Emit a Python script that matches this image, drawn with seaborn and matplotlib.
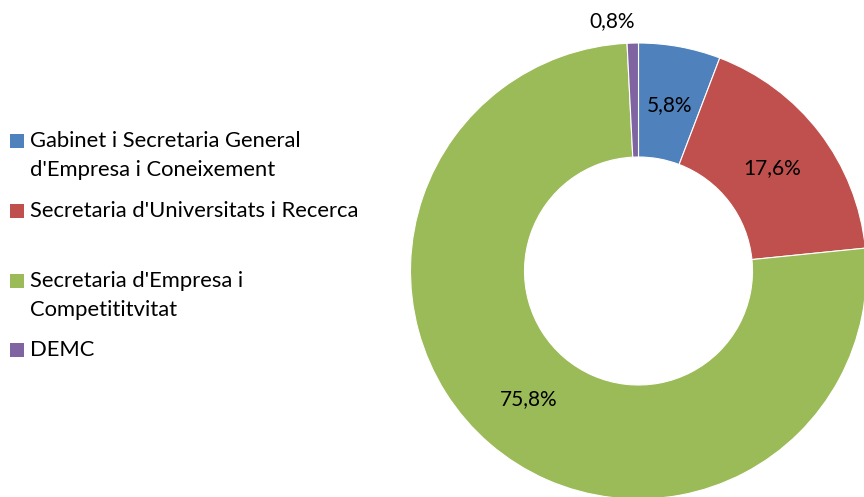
import matplotlib.pyplot as plt
import seaborn as sns
from matplotlib.patches import Rectangle

# Data
labels = ["Gabinet i Secretaria General\nd'Empresa i Coneixement",
          "Secretaria d'Universitats i Recerca",
          "Secretaria d'Empresa i\nCompetititvitat",
          "DEMC"]
values = [5.8, 17.6, 75.8, 0.8]
colors = ["#4F81BD", "#C0504D", "#9BBB59", "#8064A2"]

sns.set_theme(style="white")
plt.rcParams['font.family'] = ['Lato', 'DejaVu Sans']

W, H = 864, 497
fig = plt.figure(figsize=(W / 100, H / 100), dpi=100)

# donut: centre (638.5, 271) px, radius 228 px
cx, cy, r = 638.5, 271, 228
ax = fig.add_axes([(cx - r) / W, (H - cy - r) / H, 2 * r / W, 2 * r / H])
wedges, texts, autotexts = ax.pie(
    values, colors=sns.color_palette(colors), startangle=90, counterclock=False,
    radius=1, autopct=lambda p: f"{p:.1f}%".replace('.', ','), pctdistance=0.74,
    wedgeprops=dict(width=0.5, edgecolor='white', linewidth=0.8),
    textprops=dict(fontsize=15, color='black'))
ax.set_xlim(-1, 1)
ax.set_ylim(-1, 1)
# small slice label sits outside the ring
autotexts[3].set_position((-0.115, 1.095))
autotexts[3].set_ha('center')

# legend drawn by hand to keep Excel-like spacing
entry_y = [141, 211, 281, 350]
line_gap = 29
for lab, col, y in zip(labels, colors, entry_y):
    fig.patches.append(Rectangle((10 / W, 1 - (y + 7) / H), 14 / W, 14 / H,
                                 transform=fig.transFigure, facecolor=col,
                                 edgecolor='none'))
    for i, line in enumerate(lab.split('\n')):
        fig.text(30 / W, 1 - (y + i * line_gap) / H, line, fontsize=15.8,
                 va='center', ha='left', color='black')

fig.savefig('out.png', dpi=100)
